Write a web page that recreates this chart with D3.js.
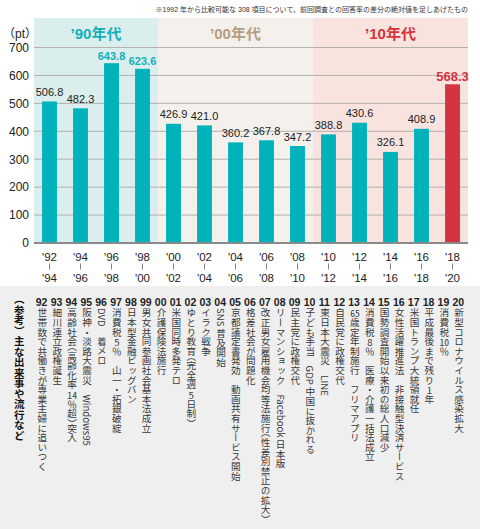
<!DOCTYPE html>
<html>
<head>
<meta charset="utf-8">
<script src="https://cdn.jsdelivr.net/npm/d3@7"></script>
<style>
  body { margin: 0; background: #fff; }
  #wrap { position: relative; width: 480px; height: 529px; overflow: hidden;
          font-family: "Liberation Sans", "Noto Sans CJK JP", sans-serif; }
  #wrap svg { position: absolute; left: 0; top: 0; z-index: 0; }
  #events { position: absolute; left: 0; top: 0; width: 480px; height: 529px; z-index: 2; }
  .col { position: absolute; writing-mode: vertical-rl; text-orientation: mixed;
         font-family: "Noto Sans CJK JP", sans-serif; line-height: 1; white-space: nowrap;
         transform: translateX(-50%); }
  .tcy { text-combine-upright: all; }
  .half { font-feature-settings: "vhal" 1, "halt" 1; }
</style>
</head>
<body>
<div id="wrap"><div id="events"></div></div>
<script>
// survey periods (from / to) and scores
const fromYears = ["'92","'94","'96","'98","'00","'02","'04","'06","'08","'10","'12","'14","'16","'18"];
const toYears   = ["'94","'96","'98","'00","'02","'04","'06","'08","'10","'12","'14","'16","'18","'20"];
const scores = [506.8, 482.3, 643.8, 623.6, 426.9, 421.0, 360.2, 367.8, 347.2, 388.8, 430.6, 326.1, 408.9, 568.3];
const yTicks = [0, 100, 200, 300, 400, 500, 600, 700];

// decades: label and index of first / last period
const eraLabels = ["’90年代", "’00年代", "’10年代"];
const eraFirst = [0, 4, 9];
const eraLast = [3, 8, 13];

const note = "※1992 年から比較可能な 308 項目について、前回調査との回答率の差分の絶対値を足しあげたもの";
const unitLabel = "（pt）";
const eventsTitle = "（参考）主な出来事や流行など";
const eventYears = ["92","93","94","95","96","97","98","99","00","01","02","03","04","05","06","07","08","09","10","11","12","13","14","15","16","17","18","19","20"];
const events = [
  "世帯数で共働きが専業主婦に追いつく",
  "細川連立政権誕生",
  "高齢社会（高齢化率14％超）突入",
  "阪神・淡路大震災　Windows95",
  "DVD　着メロ",
  "消費税5％　山一・拓銀破綻",
  "日本型金融ビッグバン",
  "男女共同参画社会基本法成立",
  "介護保険法施行",
  "米国同時多発テロ",
  "ゆとり教育（完全週5日制）",
  "イラク戦争",
  "SNS 普及開始",
  "京都議定書発効　動画共有サービス開始",
  "格差社会が問題化",
  "改正男女雇用機会均等法施行（性差別禁止の拡大）",
  "リーマンショック　Facebook 日本版",
  "民主党に政権交代",
  "子ども手当　GDP 中国に抜かれる",
  "東日本大震災　LINE",
  "自民党に政権交代",
  "65歳定年制施行　フリマアプリ",
  "消費税8％　医療・介護一括法成立",
  "国勢調査開始以来初の総人口減少",
  "女性活躍推進法　非接触型決済サービス",
  "米国トランプ大統領就任",
  "平成最後まで残り1年",
  "消費税10％",
  "新型コロナウイルス感染拡大"
];

const W = 480, H = 529;
const TEAL = '#00b3bb', RED = '#d3343f';
const eraBg = ['#dbeeee', '#f4f1ec', '#f9e3df'];
const eraFg = ['#13b0b8', '#b79d80', '#d6333d'];

const svg = d3.select('#wrap').insert('svg', '#events').attr('width', W).attr('height', H);

const x = d3.scaleBand().domain(d3.range(scores.length))
  .range([34, 468]).paddingInner(0.52).paddingOuter(0.26);
const y = d3.scaleLinear().domain([0, 700]).range([243, 47.5]);
const step = x.step();
const bandStart = i => x(i) - (step - x.bandwidth()) / 2;

// bottom grey panel
svg.append('rect').attr('x', 0).attr('y', 286).attr('width', W).attr('height', H - 286)
  .attr('fill', '#efefef');

// decade backgrounds + headers
eraLabels.forEach((lab, k) => {
  const x0 = bandStart(eraFirst[k]), x1 = bandStart(eraLast[k]) + step;
  svg.append('rect').attr('x', x0).attr('y', 18).attr('width', x1 - x0).attr('height', y(0) - 18)
    .attr('fill', eraBg[k]);
  svg.append('text').attr('x', (x0 + x1) / 2).attr('y', 39).attr('text-anchor', 'middle')
    .attr('font-size', 15).attr('font-weight', 'bold').attr('fill', eraFg[k]).text(lab);
});

// grid
svg.append('g').selectAll('line').data(yTicks.slice(1)).join('line')
  .attr('x1', 34).attr('x2', 468).attr('y1', d => y(d)).attr('y2', d => y(d))
  .attr('stroke', '#b3b0ad').attr('stroke-width', 1);

// y labels
svg.append('g').selectAll('text').data(yTicks).join('text')
  .attr('x', 29).attr('y', d => y(d) + 4.3).attr('text-anchor', 'end')
  .attr('font-size', 12).attr('fill', '#222').text(d => d);
svg.append('text').attr('x', 3).attr('y', 38).attr('font-size', 12).attr('fill', '#222')
  .text(unitLabel);

// note
svg.append('text').attr('x', 468).attr('y', 12).attr('text-anchor', 'end')
  .attr('font-size', 7).attr('fill', '#333').text(note);

// bars
const last = scores.length - 1;
const topIdx = [2, 3];
svg.append('g').selectAll('rect').data(scores).join('rect')
  .attr('x', (d, i) => x(i)).attr('width', x.bandwidth())
  .attr('y', d => y(d)).attr('height', d => y(0) - y(d))
  .attr('fill', (d, i) => i === last ? RED : TEAL);

// value labels
svg.append('g').selectAll('text').data(scores).join('text')
  .attr('x', (d, i) => x(i) + x.bandwidth() / 2)
  .attr('y', (d, i) => y(d) - (i === last ? 3 : topIdx.includes(i) ? 3.5 : 5.5))
  .attr('text-anchor', 'middle')
  .attr('font-size', (d, i) => i === last ? 13 : 11)
  .attr('font-weight', (d, i) => i === last || topIdx.includes(i) ? 'bold' : 'normal')
  .attr('fill', (d, i) => i === last ? RED : topIdx.includes(i) ? eraFg[0] : '#222')
  .text(d => d.toFixed(1));

// axis line
svg.append('line').attr('x1', 34).attr('x2', 468).attr('y1', y(0)).attr('y2', y(0))
  .attr('stroke', '#8a8a8a').attr('stroke-width', 2);

// x labels
const xl = svg.append('g').selectAll('g').data(fromYears).join('g')
  .attr('transform', (d, i) => `translate(${x(i) + x.bandwidth() / 2},0)`);
xl.append('text').attr('y', 260.5).attr('text-anchor', 'middle').attr('font-size', 11.5)
  .attr('fill', '#222').text(d => d);
xl.append('line').attr('y1', 263.5).attr('y2', 269.5).attr('stroke', '#666').attr('stroke-width', 0.8);
xl.append('text').attr('y', 281.5).attr('text-anchor', 'middle').attr('font-size', 11.5)
  .attr('fill', '#222').text((d, i) => toYears[i]);

// events (vertical)
const xe = d3.scalePoint().domain(eventYears).range([41.6, 458.3]);
svg.append('g').selectAll('text').data(eventYears).join('text')
  .attr('x', d => xe(d)).attr('y', 306).attr('text-anchor', 'middle')
  .attr('font-size', 10.5).attr('font-weight', 'bold').attr('fill', '#222').text(d => d);

// upright digits (tate-chu-yoko) and half-width brackets
const fmt = s => s
  .replace(/(?<![A-Za-z\d])(\d{1,2})(?![A-Za-z\d])/g, '<span class="tcy">$1</span>')
  .replace(/([（）])/g, '<span class="half">$1</span>');
const ev = d3.select('#events');
ev.append('div').attr('class', 'col')
  .style('left', '18.5px').style('top', '294px')
  .style('font-size', '10.5px').style('font-weight', 'bold').style('color', '#111')
  .text(eventsTitle);
ev.selectAll('div.ev').data(events).join('div').attr('class', 'col ev')
  .style('left', (d, i) => xe(eventYears[i]) + 'px').style('top', '308px')
  .style('font-size', '9.6px').style('color', '#3a3a3a')
  .html(d => fmt(d));
</script>
</body>
</html>
